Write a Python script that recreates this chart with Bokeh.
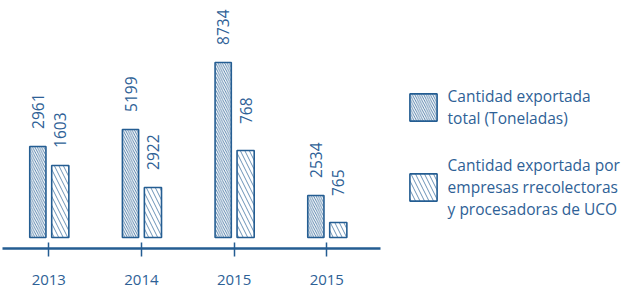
from bokeh.plotting import figure
from bokeh.models import (ColumnDataSource, Range1d, FixedTicker, Legend, LegendItem)
from bokeh.transform import dodge
from bokeh.embed import file_html
from bokeh.resources import INLINE
from bokeh.core.properties import value
import math

# ---- data ----
years = ["2013", "2014", "2015", "2015"]
total_labels = [2961, 5199, 8734, 2534]          # Cantidad exportada total (Toneladas)
uco_labels = [1603, 2922, 768, 765]               # empresas recolectoras y procesadoras de UCO
# bar heights as drawn in the picture (chart units)
total_heights = [91, 108, 175, 42]
uco_heights = [72, 50, 87, 15]

series_names = ["Cantidad exportada\ntotal (Toneladas)",
                "Cantidad exportada por\nempresas rrecolectoras\ny procesadoras de UCO"]

BLUE = "#245d92"
TXT = "#2e6196"
FONT = "Open Sans"

idx = list(range(len(years)))
src = ColumnDataSource(dict(
    x=idx,
    total_h=total_heights, uco_h=uco_heights,
    total_t=[str(v) for v in total_labels],
    uco_t=[str(v) for v in uco_labels],
))

p = figure(width=622, height=295, output_backend="svg", toolbar_location=None,
           x_range=Range1d(-0.521, 6.191), y_range=Range1d(-11, 237),
           x_axis_location="below", y_axis_location=None,
           min_border_left=0, min_border_right=0, min_border_top=0, min_border_bottom=47)
p.outline_line_color = None
p.grid.visible = False
p.background_fill_color = "white"
p.border_fill_color = "white"

r1 = p.vbar(x=dodge("x", -0.118, range=p.x_range), top="total_h", bottom=0, width=0.175,
            source=src, fill_color="white", line_color=BLUE, line_width=1.6,
            hatch_pattern="left_diagonal_line", hatch_color=BLUE, hatch_scale=4.5,
            hatch_weight=0.9, hatch_alpha=0.85)
r2 = p.vbar(x=dodge("x", 0.124, range=p.x_range), top="uco_h", bottom=0, width=0.185,
            source=src, fill_color="white", line_color=BLUE, line_width=1.6,
            hatch_pattern="left_diagonal_line", hatch_color=BLUE, hatch_scale=9,
            hatch_weight=0.9, hatch_alpha=0.75)

for col_x, col_top, col_t in [(-0.118, "total_h", "total_t"), (0.124, "uco_h", "uco_t")]:
    p.text(x=dodge("x", col_x, range=p.x_range), y=col_top, text=col_t, source=src,
           angle=math.pi / 2, text_align="right", text_baseline="middle",
           y_offset=-53, text_color=TXT, text_font=value(FONT), text_font_size="15.5px")

ax = p.xaxis[0]
ax.ticker = FixedTicker(ticks=idx)
ax.major_label_overrides = {i: y for i, y in zip(idx, years)}
ax.bounds = (-0.5, 3.579)
ax.axis_line_color = BLUE
ax.axis_line_width = 2.7
ax.major_tick_line_color = BLUE
ax.major_tick_line_width = 1.5
ax.major_tick_in = 6
ax.major_tick_out = 8
ax.minor_tick_line_color = None
ax.major_label_standoff = 18
ax.major_label_text_color = TXT
ax.major_label_text_font = FONT
ax.major_label_text_font_size = "15px"

legend = Legend(items=[LegendItem(label=series_names[0], renderers=[r1]),
                       LegendItem(label=series_names[1], renderers=[r2])],
                location=(405.6, 28), orientation="vertical",
                glyph_width=34, glyph_height=34, label_standoff=8,
                label_text_font=FONT, label_text_font_size="15.5px",
                label_text_color=TXT, label_text_line_height=1.33,
                spacing=25, padding=0, margin=0,
                border_line_alpha=0, background_fill_alpha=0)
p.add_layout(legend)

open("out.html", "w").write(file_html(p, INLINE))
